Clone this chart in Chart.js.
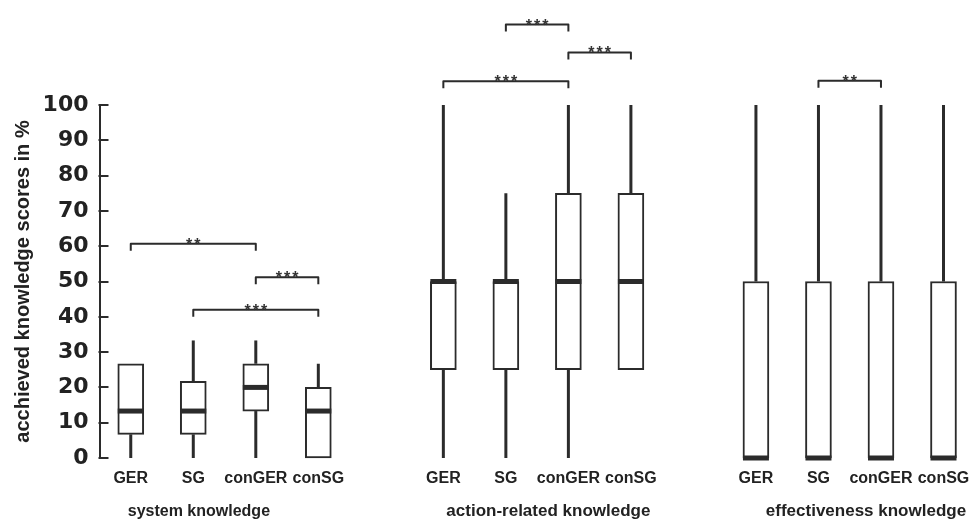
<!DOCTYPE html>
<html>
<head>
<meta charset="utf-8">
<script src="https://cdn.jsdelivr.net/npm/chart.js@4/dist/chart.umd.min.js"></script>
<style>
  html, body { margin: 0; padding: 0; background: #fff; }
  #wrap { width: 971px; height: 525px; }
</style>
</head>
<body>
<div id="wrap"><canvas id="c"></canvas></div>
<script>
// Knowledge domains and the four learning conditions shown in each
const groupTitles = ['system knowledge', 'action-related knowledge', 'effectiveness knowledge'];
const conditions = ['GER', 'SG', 'conGER', 'conSG'];

// Box plot statistics (score in %), 12 boxes: 4 conditions x 3 domains
const lowerWhisker = [0, 0, 0, 0,     0, 0, 0, 25,     0, 0, 0, 0];
const lowerQuartile = [6.7, 6.7, 13.3, 0,   25, 25, 25, 25,   0, 0, 0, 0];
const medians = [13.3, 13.3, 20, 13.3,   50, 50, 50, 50,   0, 0, 0, 0];
const upperQuartile = [26.7, 21.7, 26.7, 20,   50, 50, 75, 75,   50, 50, 50, 50];
const upperWhisker = [26.7, 33.3, 33.3, 26.7,   100, 75, 100, 100,   100, 100, 100, 100];

// Significance brackets: from/to box index, height (score units), marker
const bracketFrom  = [0, 2, 1,   5, 6, 4,   9];
const bracketTo    = [2, 3, 3,   6, 7, 6,   10];
const bracketLevel = [60.7, 51.2, 42,   122.8, 114.9, 106.7,   106.9];
const bracketStars = ['**', '***', '***', '***', '***', '***', '**'];

// y axis ticks
const yTicks = [0, 10, 20, 30, 40, 50, 60, 70, 80, 90, 100];

// each domain takes 5 slots on the x scale: 4 boxes and one spacer
const slotOf = i => Math.floor(i / 4) * 5 + (i % 4);
const boxSlots = medians.map((_, i) => slotOf(i));
const titleSlots = [1.09, 6.68, 11.76];
const titleSizes = [16, 17, 17];

const INK = '#2b2b2b';
const TEXT = '#222';
const SANS = "'Liberation Sans', Arial, sans-serif";
const BOX_W = 26;

const boxPlotPlugin = {
  id: 'boxPlotParts',
  beforeDatasetsDraw(chart) {
    const { ctx, scales: { x, y } } = chart;
    ctx.save();
    ctx.strokeStyle = INK;
    ctx.lineWidth = 3;
    ctx.lineCap = 'butt';
    boxSlots.forEach((s, i) => {
      const px = x.getPixelForValue(s);
      if (upperWhisker[i] > upperQuartile[i]) {
        ctx.beginPath();
        ctx.moveTo(px, y.getPixelForValue(upperQuartile[i]));
        ctx.lineTo(px, y.getPixelForValue(upperWhisker[i]));
        ctx.stroke();
      }
      if (lowerWhisker[i] < lowerQuartile[i]) {
        ctx.beginPath();
        ctx.moveTo(px, y.getPixelForValue(lowerQuartile[i]));
        ctx.lineTo(px, y.getPixelForValue(lowerWhisker[i]));
        ctx.stroke();
      }
    });
    ctx.restore();
  },
  afterDatasetsDraw(chart) {
    const { ctx, scales: { x, y } } = chart;
    ctx.save();
    ctx.strokeStyle = INK;
    ctx.lineWidth = 5;
    boxSlots.forEach((s, i) => {
      const px = x.getPixelForValue(s);
      const py = y.getPixelForValue(medians[i]);
      ctx.beginPath();
      ctx.moveTo(px - BOX_W / 2, py);
      ctx.lineTo(px + BOX_W / 2, py);
      ctx.stroke();
    });
    ctx.restore();
  },
  afterDraw(chart) {
    const { ctx, chartArea, scales: { x, y } } = chart;
    ctx.save();
    // inward tick marks on the y axis
    ctx.strokeStyle = INK;
    ctx.lineWidth = 2;
    y.ticks.forEach(t => {
      const py = Math.round(y.getPixelForValue(t.value));
      ctx.beginPath();
      ctx.moveTo(chartArea.left - 1, py);
      ctx.lineTo(chartArea.left + 9, py);
      ctx.stroke();
    });

    // significance brackets
    ctx.lineJoin = 'round';
    ctx.lineWidth = 2;
    bracketFrom.forEach((f, k) => {
      const x1 = x.getPixelForValue(boxSlots[f]);
      const x2 = x.getPixelForValue(boxSlots[bracketTo[k]]);
      const py = y.getPixelForValue(bracketLevel[k]);
      ctx.beginPath();
      ctx.moveTo(x1, py + 7);
      ctx.lineTo(x1, py);
      ctx.lineTo(x2, py);
      ctx.lineTo(x2, py + 7);
      ctx.stroke();
      ctx.fillStyle = '#333';
      ctx.font = `bold 16px ${SANS}`;
      ctx.letterSpacing = '2px';
      ctx.textAlign = 'center';
      ctx.textBaseline = 'alphabetic';
      ctx.fillText(bracketStars[k], (x1 + x2) / 2 + 1, py + 6);
    });
    ctx.letterSpacing = '0px';

    // condition labels under each box
    ctx.fillStyle = TEXT;
    ctx.font = `bold 16px ${SANS}`;
    ctx.textAlign = 'center';
    boxSlots.forEach((s, i) => {
      ctx.fillText(conditions[i % 4], x.getPixelForValue(s), 483);
    });

    // domain titles
    groupTitles.forEach((t, g) => {
      ctx.font = `bold ${titleSizes[g]}px ${SANS}`;
      ctx.fillText(t, x.getPixelForValue(titleSlots[g]), 516);
    });
    ctx.restore();
  }
};

new Chart(document.getElementById('c'), {
  type: 'bar',
  data: {
    datasets: [{
      data: boxSlots.map((s, i) => ({ x: s, y: [lowerQuartile[i], upperQuartile[i]] })),
      backgroundColor: '#ffffff',
      borderColor: INK,
      borderWidth: 2,
      borderSkipped: false,
      barThickness: BOX_W,
      clip: false
    }]
  },
  options: {
    responsive: true,
    maintainAspectRatio: false,
    animation: false,
    layout: { padding: { top: 105, bottom: 67, left: 0, right: 0 } },
    plugins: { legend: { display: false }, tooltip: { enabled: false } },
    scales: {
      x: { type: 'linear', offset: false, min: -0.5, max: 13.44, display: false },
      y: {
        min: 0,
        max: 100,
        afterBuildTicks(scale) { scale.ticks = yTicks.map(v => ({ value: v })); },
        afterFit(scale) { scale.width = 99.5; },
        ticks: {
          color: TEXT,
          padding: 11,
          font: { family: "'DejaVu Sans', sans-serif", weight: 'bold', size: 22 }
        },
        grid: { display: false, drawTicks: false },
        border: { display: true, color: INK, width: 2 },
        title: {
          display: true,
          text: 'acchieved knowledge scores in %',
          color: TEXT,
          font: { family: SANS, weight: 'bold', size: 20 },
          padding: { top: 11, bottom: 0 }
        }
      }
    }
  },
  plugins: [boxPlotPlugin]
});
</script>
</body>
</html>
